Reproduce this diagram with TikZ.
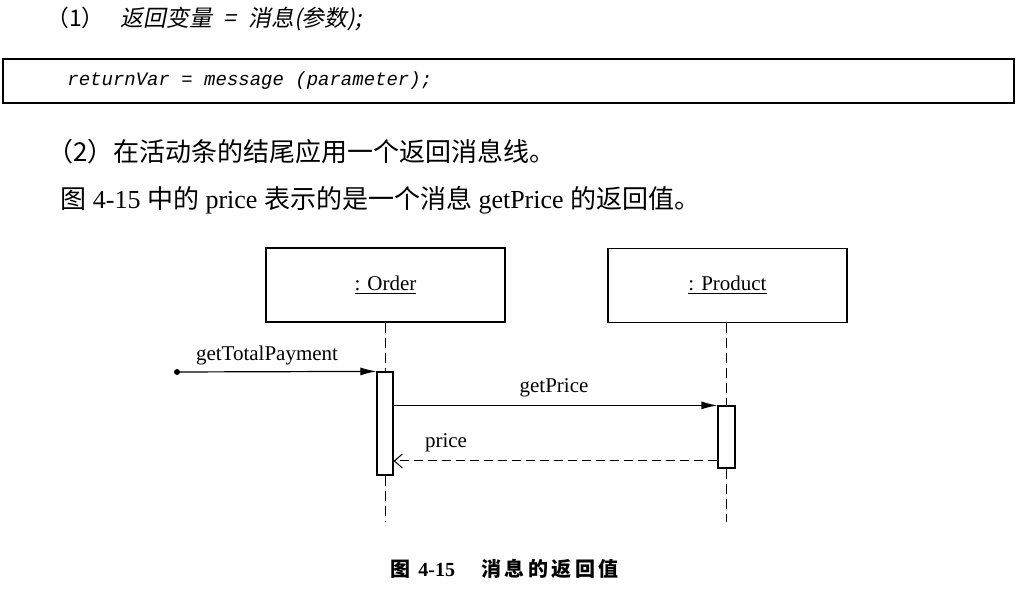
\documentclass[tikz,border=0pt]{standalone}
\usepackage{fontspec}
\setmainfont{Liberation Serif}
\setmonofont{Liberation Mono}
\newfontfamily\cjk{Noto Sans CJK SC}
\newfontfamily\cjkit[FakeSlant=0.2]{Noto Sans CJK SC}
\usetikzlibrary{arrows.meta,calc}
\tikzset{
  objbox/.style={draw, line width=0.6pt, minimum width=119.5pt, minimum height=37pt, inner sep=0pt, font=\fontsize{10.5}{12}\selectfont},
  actbar/.style={draw, fill=white, line width=0.6pt, minimum width=8pt, inner sep=0pt},
  lifeline/.style={dash pattern=on 5pt off 2.5pt, line width=0.5pt},
  callmsg/.style={-{Latex[length=8pt,width=4pt]}, line width=0.6pt},
  retmsg/.style={dash pattern=on 4.5pt off 2.5pt, -{Straight Barb[length=4pt,width=7pt]}, line width=0.5pt},
  lbl/.style={inner sep=0pt, font=\fontsize{10.5}{12}\selectfont},
  bodytext/.style={inner sep=0pt, anchor=west},
}
\begin{document}
\begin{tikzpicture}[x=0.5pt,y=-0.5pt]
\useasboundingbox (0,0) rectangle (1024,597);
% text lines
\node[bodytext, font=\fontsize{11.4}{13}\selectfont] (l1) at (46,19) {{\cjk （1）}\hspace{8pt}{\cjkit 返回变量\hspace{6pt}=\hspace{6pt}消息(参数);}};
\node[draw, line width=0.6pt, minimum width=505.5pt, minimum height=22pt, inner sep=0pt] (codebox) at (508.5,81) {};
\node[bodytext, font=\ttfamily\itshape\fontsize{9.5}{11}\selectfont] (code) at (67,81) {returnVar = message (parameter);};
\node[bodytext, font=\fontsize{13}{15}\selectfont] (l2) at (47,152) {\cjk （2）在活动条的结尾应用一个返回消息线。};
\node[bodytext, font=\fontsize{13}{15}\selectfont] (l3) at (60,200) {{\cjk 图} 4-15 {\cjk 中的} price {\cjk 表示的是一个消息} getPrice {\cjk 的返回值。}};
% objects
\node[objbox] (order) at (385.5,285) {\underline{: Order}};
\node[objbox] (product) at (727.5,285.5) {\underline{: Product}};
% activation bars
\node[actbar, minimum height=51.5pt] (act1) at (385,423.5) {};
\node[actbar, minimum width=8.5pt, minimum height=31pt] (act2) at (726.5,437) {};
\coordinate (end1) at (385,522);
\coordinate (end2) at (726.5,522);
\coordinate (start) at (177,372);
\coordinate (r) at (0,461);
% lifelines
\draw[lifeline] (act1.north |- order.south) -- (act1.north);
\draw[lifeline] (act1.south) -- (end1);
\draw[lifeline] (act2.north |- product.south) -- (act2.north);
\draw[lifeline] (act2.south) -- (end2);
% messages
\fill (start) circle (3);
\draw[callmsg] (start) -- (act1.north west);
\draw[callmsg] (act1.east |- act2.north) -- (act2.north west);
\draw[retmsg] (act2.west |- r) -- (act1.east |- r);
\node[lbl] (m1) at (267,355) {getTotalPayment};
\node[lbl] (m2) at (554,388) {getPrice};
\node[lbl] (m3) at (446,443) {price};
% caption
\node[bodytext, font=\bfseries\fontsize{10}{12}\selectfont] (cap) at (390,569) {{\cjk\bfseries 图}\hspace{4pt}4-15\hspace{13pt}{\cjk\bfseries 消\kern1.75pt 息\kern1.75pt 的\kern1.75pt 返\kern1.75pt 回\kern1.75pt 值}};
\end{tikzpicture}
\end{document}
